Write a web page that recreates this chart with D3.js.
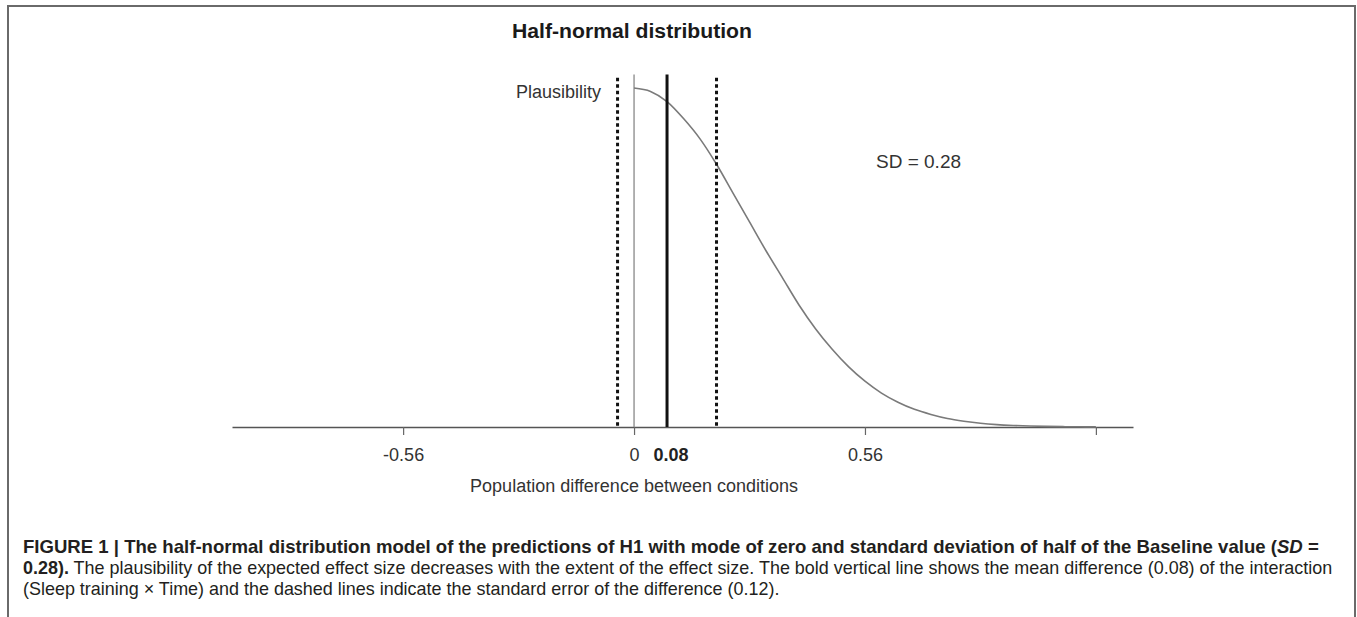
<!DOCTYPE html>
<html>
<head>
<meta charset="utf-8">
<script src="https://cdn.jsdelivr.net/npm/d3@7/dist/d3.min.js"></script>
<style>
  html, body { margin: 0; padding: 0; background: #fff; }
  svg { display: block; }
  text { font-family: "Liberation Sans", Arial, Helvetica, sans-serif; }
</style>
</head>
<body>
<svg id="chart" width="1357" height="617"></svg>
<script>
// ---- data ----
const tickValues = [-0.56, 0, 0.56, 1.12];
const tickLabels = ["-0.56", "0", "0.56", ""];
const meanDiff = 0.08;
const stdErr = 0.12;
const sdLabel = "SD = 0.28";
// curve (relative plausibility, peak = 1)
const curveX = [0, 0.04, 0.08, 0.12, 0.16, 0.20, 0.24, 0.28, 0.32, 0.36, 0.40, 0.44, 0.48, 0.52, 0.56,
                0.60, 0.64, 0.68, 0.72, 0.76, 0.80, 0.84, 0.88, 0.92, 0.96, 1.00, 1.04, 1.08, 1.12];
const curveY = [1.00, 0.99, 0.96, 0.91, 0.85, 0.775, 0.69, 0.605, 0.52, 0.44, 0.36, 0.29, 0.23, 0.178, 0.135,
                0.10, 0.073, 0.052, 0.037, 0.025, 0.017, 0.011, 0.007, 0.0045, 0.0028, 0.0017, 0.001, 0.0006, 0.0003];

const svg = d3.select("#chart");

// frame
svg.append("path")
  .attr("d", "M8,620 V6 H1355 V620")
  .attr("fill", "none").attr("stroke", "#6a6a6a").attr("stroke-width", 2);

const x = d3.scaleLinear().domain([-0.975, 1.21]).range([232, 1133]);
const y = d3.scaleLinear().domain([0, 1]).range([427, 88]);

// title
svg.append("text")
  .attr("x", 512).attr("y", 38)
  .attr("font-size", 20).attr("font-weight", "bold").attr("fill", "#1a1a1a")
  .attr("textLength", 240).attr("lengthAdjust", "spacingAndGlyphs")
  .text("Half-normal distribution");

// axis
const axis = d3.axisBottom(x)
  .tickValues(tickValues)
  .tickFormat((d, i) => tickLabels[i])
  .tickSizeInner(8).tickSizeOuter(0).tickPadding(13);
const gAxis = svg.append("g").attr("transform", `translate(0,${y(0)})`).call(axis);
gAxis.select(".domain").attr("stroke", "#555").attr("stroke-width", 1.3);
gAxis.selectAll(".tick line").attr("stroke", "#666").attr("stroke-width", 1.2);
gAxis.selectAll(".tick text")
  .attr("font-size", 18).attr("fill", "#333")
  .attr("font-family", "'Liberation Sans', Arial, Helvetica, sans-serif");

// zero line
svg.append("line")
  .attr("x1", x(0)).attr("x2", x(0)).attr("y1", y(1.04)).attr("y2", y(0))
  .attr("stroke", "#888").attr("stroke-width", 1.3);

// curve
const pts = curveX.map((v, i) => [v, curveY[i]]);
svg.append("path")
  .datum(pts)
  .attr("d", d3.line().x(d => x(d[0])).y(d => y(d[1])).curve(d3.curveMonotoneX))
  .attr("fill", "none").attr("stroke", "#7a7a7a").attr("stroke-width", 1.6);

// standard error dotted lines
[meanDiff - stdErr, meanDiff + stdErr].forEach(v => {
  svg.append("line")
    .attr("x1", x(v)).attr("x2", x(v)).attr("y1", y(1.03)).attr("y2", y(0))
    .attr("stroke", "#111").attr("stroke-width", 3).attr("stroke-dasharray", "3.5,3");
});

// mean line
svg.append("line")
  .attr("x1", x(meanDiff)).attr("x2", x(meanDiff)).attr("y1", y(1.04)).attr("y2", y(0))
  .attr("stroke", "#111").attr("stroke-width", 3);

// mean label
svg.append("text")
  .attr("x", x(meanDiff) + 4).attr("y", 461).attr("text-anchor", "middle")
  .attr("font-size", 18).attr("font-weight", "bold").attr("fill", "#222")
  .text(String(meanDiff));

// Plausibility label
svg.append("text")
  .attr("x", 601).attr("y", 98).attr("text-anchor", "end")
  .attr("font-size", 18).attr("fill", "#333")
  .text("Plausibility");

// SD label
svg.append("text")
  .attr("x", 876).attr("y", 168)
  .attr("font-size", 19).attr("fill", "#333")
  .text(sdLabel);

// x axis title
svg.append("text")
  .attr("x", x(0)).attr("y", 492).attr("text-anchor", "middle")
  .attr("font-size", 18).attr("fill", "#333")
  .text("Population difference between conditions");

// caption
function captionLine(yPos, parts, targetWidth, scaleOverride) {
  const g = svg.append("g");
  const t = g.append("text").attr("x", 0).attr("y", 0)
    .attr("font-size", 18).attr("fill", "#231f20");
  parts.forEach(p => {
    const ts = t.append("tspan").text(p.t);
    if (p.b) ts.attr("font-weight", "bold");
    if (p.i) ts.attr("font-style", "italic");
  });
  const w = t.node().getComputedTextLength();
  const s = scaleOverride || (targetWidth / w);
  g.attr("transform", `translate(23,${yPos}) scale(${s},1)`);
  return s;
}
captionLine(553, [
  { t: "FIGURE 1 | The half-normal distribution model of the predictions of H1 with mode of zero and standard deviation of half of the Baseline value (", b: true },
  { t: "SD", b: true, i: true },
  { t: " =", b: true }
], 1297);
const s2 = captionLine(574, [
  { t: "0.28).", b: true },
  { t: " The plausibility of the expected effect size decreases with the extent of the effect size. The bold vertical line shows the mean difference (0.08) of the interaction" }
], 1310);
captionLine(595, [
  { t: "(Sleep training \u00d7 Time) and the dashed lines indicate the standard error of the difference (0.12)." }
], null, s2);
</script>
</body>
</html>
